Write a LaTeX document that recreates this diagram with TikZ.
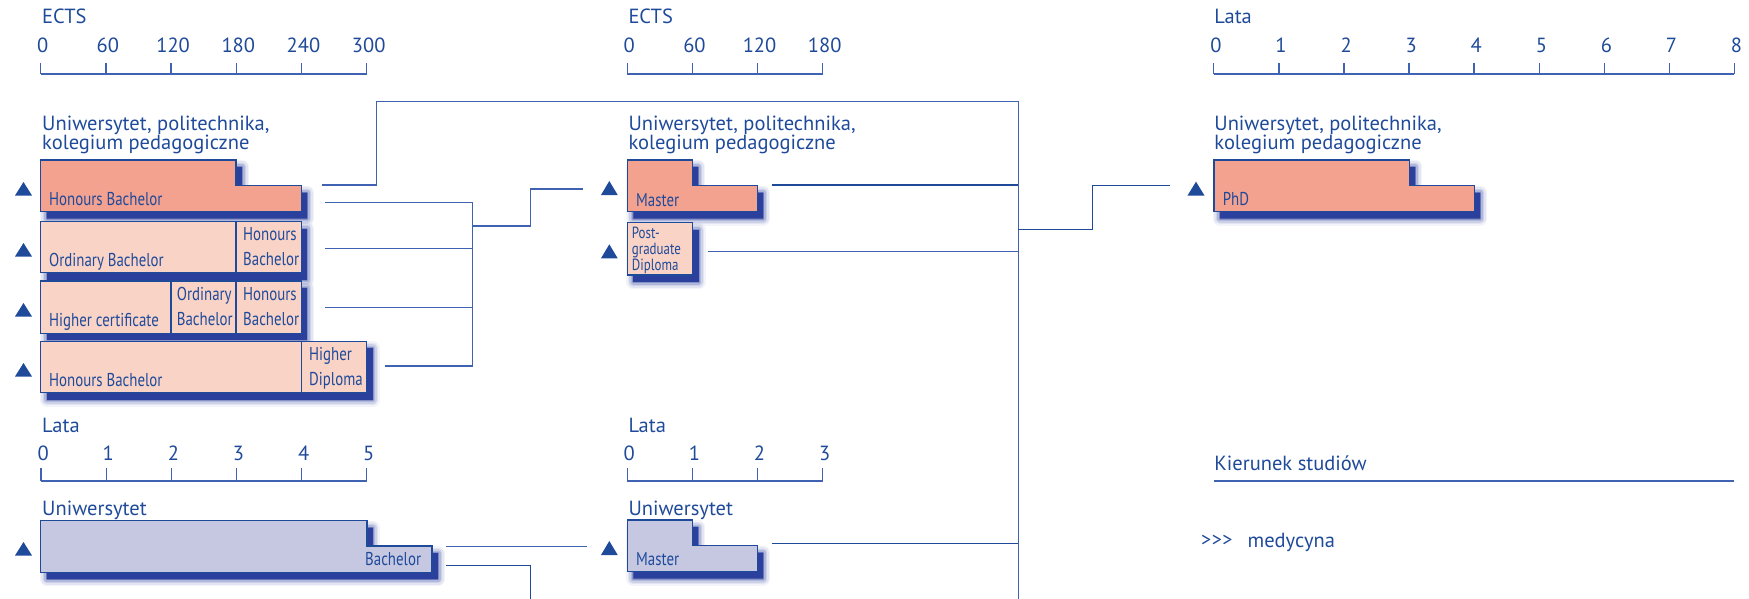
\documentclass[tikz,border=0pt]{standalone}
\usepackage{fontspec}
\setmainfont{PT Sans}
\newfontfamily\condf[FakeStretch=0.8]{PT Sans}
\usetikzlibrary{calc}
\definecolor{ink}{HTML}{1F4A9A}
\definecolor{lin}{HTML}{4062B2}
\definecolor{salmon}{HTML}{F4A290}
\definecolor{pinklt}{HTML}{F9D3C6}
\definecolor{lav}{HTML}{C6C8E2}
\definecolor{shad}{HTML}{2B3F9C}
\newcommand\mkshadow[1]{%
  \begin{scope}[shift={(6,7)}]
    \foreach \w/\o in {14/0.06,11/0.08,8/0.12,5/0.18,2/0.3}{\draw[shad, line width=\w, line join=round, opacity=\o] #1;}
    \fill[shad] #1;
  \end{scope}}
\begin{document}
\begin{tikzpicture}[x=1pt,y=-1pt,
  lbl/.style={font=\fontsize{20.5}{22}\selectfont, text=ink, inner sep=0, anchor=base west},
  num/.style={font=\fontsize{20.5}{22}\selectfont, text=ink, inner sep=0, anchor=base},
  bl/.style={font=\condf\fontsize{18.6}{18}\selectfont, text=ink, inner sep=0, anchor=base west},
  pgl/.style={font=\condf\fontsize{16.2}{16}\selectfont, text=ink, inner sep=0, anchor=base west},
  ax/.style={draw=lin, line width=1.3},
  conn/.style={draw=lin, line width=1.4},
  boxline/.style={draw=ink, line width=1.5, line join=miter},
  tri/.style={fill=ink, draw=none}]
\useasboundingbox (0,0) rectangle (1749,599);

% ---------- axes ----------
\node[lbl] (ects1) at (42,24) {ECTS};
\draw[ax] (40.7,74) -- (366.7,74);
\foreach \i/\l in {0/0,1/60,2/120,3/180,4/240,5/300}{
  \draw[ax] ({40.7+\i*65.2},63) -- ({40.7+\i*65.2},74);
  \node[num] (ea\i) at ({42.7+\i*65.2},53) {\l};}

\node[lbl] (ects2) at (628.3,24) {ECTS};
\draw[ax] (627.3,74) -- (822.7,74);
\foreach \i/\l in {0/0,1/60,2/120,3/180}{
  \draw[ax] ({627.3+\i*65.13},63) -- ({627.3+\i*65.13},74);
  \node[num] (eb\i) at ({629.3+\i*65.13},53) {\l};}

\node[lbl] (lata3) at (1214.2,24) {Lata};
\draw[ax] (1213.8,74) -- (1734.4,74);
\foreach \i in {0,...,8}{
  \draw[ax] ({1213.8+\i*65.07},63) -- ({1213.8+\i*65.07},74);
  \node[num] (lc\i) at ({1216+\i*65.07},53) {\i};}

\node[lbl] (lata1) at (42,432) {Lata};
\draw[ax] (41.1,481) -- (366.8,481);
\foreach \i in {0,...,5}{
  \draw[ax] ({41.1+\i*65.14},468) -- ({41.1+\i*65.14},481);
  \node[num] (la\i) at ({43.1+\i*65.14},460) {\i};}

\node[lbl] (lata2) at (628.3,432) {Lata};
\draw[ax] (627.3,481) -- (822.7,481);
\foreach \i in {0,...,3}{
  \draw[ax] ({627.3+\i*65.13},468) -- ({627.3+\i*65.13},481);
  \node[num] (lb\i) at ({629.3+\i*65.13},460) {\i};}

% ---------- titles ----------
\node[lbl] (t1a) at (42,131) {Uniwersytet, politechnika,};
\node[lbl] (t1b) at (42,149.5) {kolegium pedagogiczne};
\node[lbl] (t2a) at (628.3,131) {Uniwersytet, politechnika,};
\node[lbl] (t2b) at (628.3,149.5) {kolegium pedagogiczne};
\node[lbl] (t3a) at (1214.2,131) {Uniwersytet, politechnika,};
\node[lbl] (t3b) at (1214.2,149.5) {kolegium pedagogiczne};
\node[lbl] (t4) at (42,515) {Uniwersytet};
\node[lbl] (t5) at (628.3,515) {Uniwersytet};

% ---------- left column boxes ----------
\mkshadow{(40.7,160) -- (236,160) -- (236,185.7) -- (301.3,185.7) -- (301.3,211.7) -- (40.7,211.7) -- cycle}
\path[boxline, fill=salmon] (40.7,160) -- (236,160) -- (236,185.7) -- (301.3,185.7) -- (301.3,211.7) -- (40.7,211.7) -- cycle;
\node[bl] (hb1) at (49,205) {Honours Bachelor};

\mkshadow{(40.7,221.7) rectangle (301.3,272.7)}
\path[boxline, fill=pinklt] (40.7,221.7) rectangle (236,272.7);
\path[boxline, fill=pinklt] (236,221.7) rectangle (301.3,272.7);
\node[bl] (ob2) at (49,266.5) {Ordinary Bachelor};
\node[bl] (hb2a) at (243,240) {Honours};
\node[bl] (hb2b) at (243,265) {Bachelor};

\mkshadow{(40.7,281) rectangle (301.3,333.3)}
\path[boxline, fill=pinklt] (40.7,281) rectangle (171,333.3);
\path[boxline, fill=pinklt] (171,281) rectangle (236,333.3);
\path[boxline, fill=pinklt] (236,281) rectangle (301.3,333.3);
\node[bl] (hc3) at (49,326) {Higher certificate};
\node[bl] (ob3a) at (176.7,300) {Ordinary};
\node[bl] (ob3b) at (176.7,325) {Bachelor};
\node[bl] (hb3a) at (243,300) {Honours};
\node[bl] (hb3b) at (243,325) {Bachelor};

\mkshadow{(40.7,341.3) rectangle (366.7,392.7)}
\path[boxline, fill=pinklt] (40.7,341.3) rectangle (301.3,392.7);
\path[boxline, fill=pinklt] (301.3,341.3) rectangle (366.7,392.7);
\node[bl] (hb4) at (49,386.5) {Honours Bachelor};
\node[bl] (hd4a) at (309,360) {Higher};
\node[bl] (hd4b) at (309,385) {Diploma};

\mkshadow{(40.7,520.7) -- (366.8,520.7) -- (366.8,546) -- (432,546) -- (432,572.3) -- (40.7,572.3) -- cycle}
\path[boxline, fill=lav] (40.7,520.7) -- (366.8,520.7) -- (366.8,546) -- (432,546) -- (432,572.3) -- (40.7,572.3) -- cycle;
\node[bl] (bb) at (365,565.7) {Bachelor};

% ---------- middle boxes ----------
\mkshadow{(627.3,160) -- (692.3,160) -- (692.3,185.7) -- (757.3,185.7) -- (757.3,211.7) -- (627.3,211.7) -- cycle}
\path[boxline, fill=salmon] (627.3,160) -- (692.3,160) -- (692.3,185.7) -- (757.3,185.7) -- (757.3,211.7) -- (627.3,211.7) -- cycle;
\node[bl] (ms) at (636,206) {Master};

\mkshadow{(627.3,222.7) rectangle (692.7,275)}
\path[boxline, fill=pinklt] (627.3,222.7) rectangle (692.7,275);
\node[pgl] (pg1) at (631.7,238) {Post-};
\node[pgl] (pg2) at (631.7,254.5) {graduate};
\node[pgl] (pg3) at (631.7,270.5) {Diploma};

\mkshadow{(627.3,520) -- (692.3,520) -- (692.3,545.7) -- (757.3,545.7) -- (757.3,571.7) -- (627.3,571.7) -- cycle}
\path[boxline, fill=lav] (627.3,520) -- (692.3,520) -- (692.3,545.7) -- (757.3,545.7) -- (757.3,571.7) -- (627.3,571.7) -- cycle;
\node[bl] (mu) at (636,565.7) {Master};

% ---------- right box ----------
\mkshadow{(1213.8,160) -- (1409.4,160) -- (1409.4,185.7) -- (1474.3,185.7) -- (1474.3,211.7) -- (1213.8,211.7) -- cycle}
\path[boxline, fill=salmon] (1213.8,160) -- (1409.4,160) -- (1409.4,185.7) -- (1474.3,185.7) -- (1474.3,211.7) -- (1213.8,211.7) -- cycle;
\node[bl] (phd) at (1222.6,205) {PhD};

% ---------- triangles ----------
\foreach \yt/\yb in {182/195.5,243/256.5,303/316.5,363/376.5,542/555.5}{
  \fill[tri] (15,\yb) -- (32,\yb) -- (23.5,\yt) -- cycle;}
\foreach \yt/\yb in {181/195,244.3/258.3,541/555}{
  \fill[tri] (601,\yb) -- (617.7,\yb) -- (609.3,\yt) -- cycle;}
\fill[tri] (1187.4,195.7) -- (1204.6,195.7) -- (1196,181.7) -- cycle;

% ---------- connector coordinates ----------
\coordinate (hbA) at (322.3,185);
\coordinate (hbB) at (325,202.7);
\coordinate (r2) at (325,248.3);
\coordinate (r3) at (325,307.7);
\coordinate (r4) at (385,366);
\coordinate (brT) at (472.7,202.7);
\coordinate (brB) at (472.7,366);
\coordinate (brM) at (472.7,226);
\coordinate (msIn) at (582.7,189);
\coordinate (upA) at (376.3,101.7);
\coordinate (trT) at (1018.3,101.7);
\coordinate (trB) at (1018.3,599);
\coordinate (msOut) at (771.7,185);
\coordinate (pgOut) at (708.3,251.7);
\coordinate (muOut) at (771.7,543.3);
\coordinate (trM) at (1018.3,229.7);
\coordinate (phIn) at (1170,185.3);
\coordinate (bbA) at (446,546.7);
\coordinate (muIn) at (586.7,546.7);
\coordinate (bbB) at (446,565.7);
\coordinate (bbEnd) at (530.7,599);

\draw[conn] (hbA) -| (upA) -- (trT) -- (trB);
\draw[conn] (hbB) -- (brT);
\draw[conn] (r2) -- (brT |- r2);
\draw[conn] (r3) -- (brT |- r3);
\draw[conn] (r4) -- (brB);
\draw[conn] (brT) -- (brB);
\draw[conn] (brM) -- (530.7,226) |- (msIn);
\draw[conn, draw=ink] (msOut) -- (trT |- msOut);
\draw[conn] (pgOut) -- (trT |- pgOut);
\draw[conn, draw=ink] (muOut) -- (trT |- muOut);
\draw[conn, draw=ink] (trM) -- (1092.7,229.7) |- (phIn);
\draw[conn] (bbA) -- (muIn);
\draw[conn, draw=ink] (bbB) -| (bbEnd);

% ---------- legend ----------
\node[lbl] (kier) at (1214.2,470.7) {Kierunek studiów};
\coordinate (kL) at (1214,481);
\coordinate (kR) at (1734.4,481);
\draw[conn] (kL) -- (kR);
\node[lbl, font=\fontsize{20}{20}\selectfont] (arr) at (1201,546) {>\kern0.5pt>\kern0.5pt>};
\node[lbl] (med) at (1247.4,547) {medycyna};
\end{tikzpicture}
\end{document}
